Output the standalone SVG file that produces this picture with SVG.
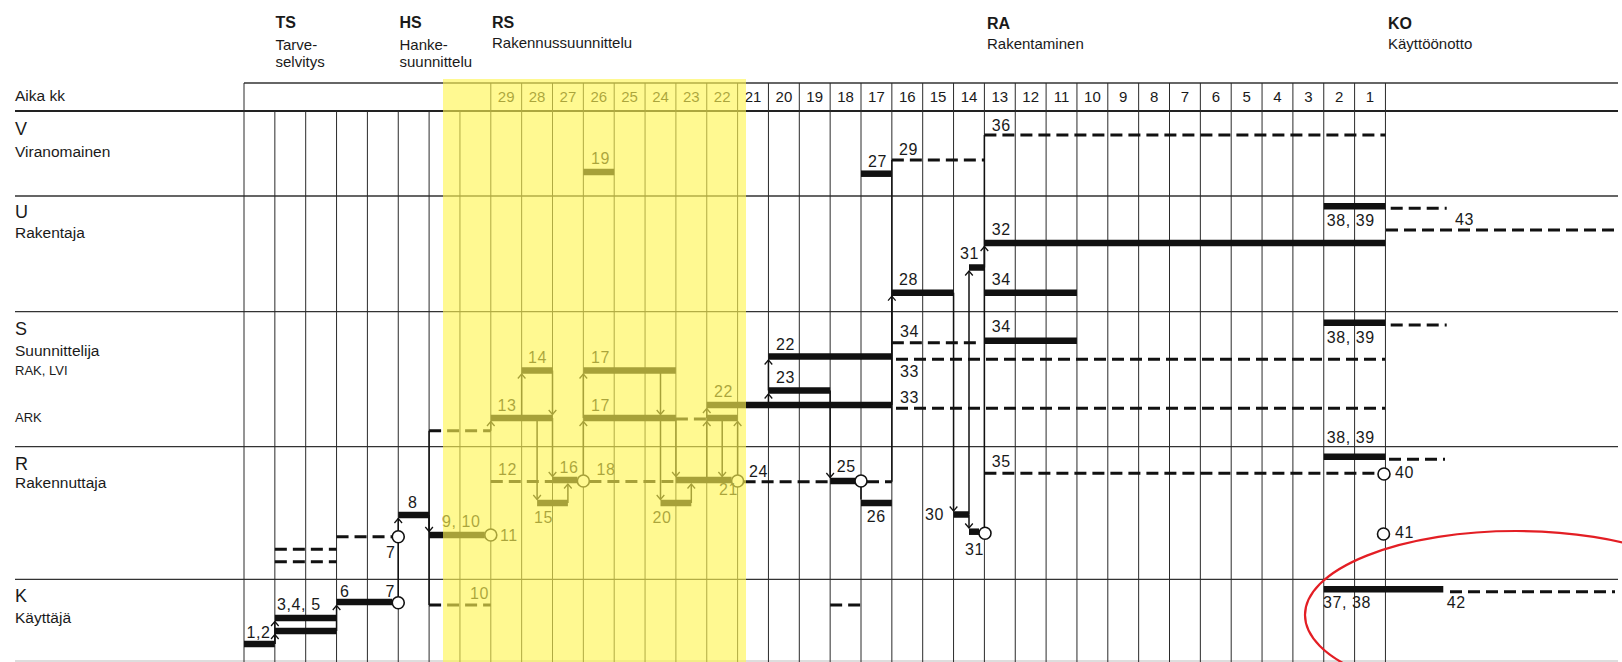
<svg xmlns="http://www.w3.org/2000/svg" width="1622" height="662" viewBox="0 0 1622 662">
<style>
text{font-family:"Liberation Sans",Arial,sans-serif;fill:#1a1a1a}
.ph{font-size:16px;font-weight:bold}
.ps{font-size:15px}
.rl{font-size:18px}
.rs{font-size:15.5px}
.sm{font-size:13px}
.hn{font-size:15px;text-anchor:middle}
.lb{font-size:16px;letter-spacing:0.6px}
.grid{stroke:#2a2a2a;stroke-width:1;fill:none}
.row{stroke:#333;stroke-width:1.3;fill:none}
.bar{stroke:#111;stroke-width:6.5;fill:none}
.dash{stroke:#111;stroke-width:3;stroke-dasharray:12 6;fill:none}
.cn{stroke:#111;stroke-width:1.5;fill:none}
.cm{stroke:#111;stroke-width:1.5;fill:none;marker-end:url(#ch)}
.ci{fill:#fff;stroke:#111;stroke-width:1.6}
</style>
<defs>
<marker id="ch" markerUnits="userSpaceOnUse" viewBox="-6 -5 7 10" refX="0" refY="0" markerWidth="7" markerHeight="10" orient="auto">
<path d="M-4.5,-3.8 L0,0 L-4.5,3.8" fill="none" stroke="#111" stroke-width="1.3"/>
</marker>
</defs>
<rect width="1622" height="662" fill="#fff"/>

<g id="grid">
<path class="row" d="M244 83H1618"/>
<path d="M15 111H1618" stroke="#222" stroke-width="2.2"/>
<path class="row" d="M15 196H1618M15 311.7H1618M15 446.7H1618M15 579.3H1618"/>
<path d="M15 661H1618" stroke="#bbb" stroke-width="1"/>
<path class="grid" d="M244 83V662M274.85 111V662M305.7 111V662M336.55 111V662M367.4 111V662M398.25 111V662M429.1 111V662M459.95 111V662M490.8 83V662M521.65 83V662M552.5 83V662M583.35 83V662M614.2 83V662M645.05 83V662M675.9 83V662M706.75 83V662M737.6 83V662M768.45 83V662M799.3 83V662M830.15 83V662M861 83V662M891.85 83V662M922.7 83V662M953.55 83V662M984.4 83V662M1015.25 83V662M1046.1 83V662M1076.95 83V662M1107.8 83V662M1138.65 83V662M1169.5 83V662M1200.35 83V662M1231.2 83V662M1262.05 83V662M1292.9 83V662M1323.75 83V662M1354.6 83V662M1385.45 83V662"/>
</g>

<g id="phases">
<text class="ph" x="275.5" y="28.3">TS</text>
<text class="ps" x="275.5" y="49.5">Tarve-</text>
<text class="ps" x="275.5" y="67">selvitys</text>
<text class="ph" x="399.5" y="28.3">HS</text>
<text class="ps" x="399.5" y="49.5">Hanke-</text>
<text class="ps" x="399.5" y="67">suunnittelu</text>
<text class="ph" x="492" y="27.5">RS</text>
<text class="ps" x="492" y="48.3">Rakennussuunnittelu</text>
<text class="ph" x="987" y="28.5">RA</text>
<text class="ps" x="987" y="48.5">Rakentaminen</text>
<text class="ph" x="1388" y="28.5">KO</text>
<text class="ps" x="1388" y="48.5">Käyttöönotto</text>
</g>

<g id="rows">
<text class="rs" x="15" y="101">Aika kk</text>
<text class="rl" x="15" y="135">V</text>
<text class="rs" x="15" y="157">Viranomainen</text>
<text class="rl" x="15" y="218">U</text>
<text class="rs" x="15" y="238">Rakentaja</text>
<text class="rl" x="15" y="335">S</text>
<text class="rs" x="15" y="356">Suunnittelija</text>
<text class="sm" x="15" y="375">RAK, LVI</text>
<text class="sm" x="15" y="421.7">ARK</text>
<text class="rl" x="15" y="470">R</text>
<text class="rs" x="15" y="488">Rakennuttaja</text>
<text class="rl" x="15" y="602">K</text>
<text class="rs" x="15" y="623">Käyttäjä</text>
</g>

<g id="months">
<text class="hn" x="506.2" y="102">29</text>
<text class="hn" x="537.1" y="102">28</text>
<text class="hn" x="567.9" y="102">27</text>
<text class="hn" x="598.8" y="102">26</text>
<text class="hn" x="629.6" y="102">25</text>
<text class="hn" x="660.5" y="102">24</text>
<text class="hn" x="691.3" y="102">23</text>
<text class="hn" x="722.2" y="102">22</text>
<text class="hn" x="753" y="102">21</text>
<text class="hn" x="783.9" y="102">20</text>
<text class="hn" x="814.7" y="102">19</text>
<text class="hn" x="845.6" y="102">18</text>
<text class="hn" x="876.4" y="102">17</text>
<text class="hn" x="907.3" y="102">16</text>
<text class="hn" x="938.1" y="102">15</text>
<text class="hn" x="969" y="102">14</text>
<text class="hn" x="999.8" y="102">13</text>
<text class="hn" x="1030.7" y="102">12</text>
<text class="hn" x="1061.5" y="102">11</text>
<text class="hn" x="1092.4" y="102">10</text>
<text class="hn" x="1123.2" y="102">9</text>
<text class="hn" x="1154.1" y="102">8</text>
<text class="hn" x="1184.9" y="102">7</text>
<text class="hn" x="1215.8" y="102">6</text>
<text class="hn" x="1246.6" y="102">5</text>
<text class="hn" x="1277.5" y="102">4</text>
<text class="hn" x="1308.3" y="102">3</text>
<text class="hn" x="1339.2" y="102">2</text>
<text class="hn" x="1370" y="102">1</text>
</g>

<g id="connectors">
<line class="cm" x1="274.85" y1="644" x2="274.85" y2="634.5"/>
<line class="cm" x1="274.85" y1="644" x2="274.85" y2="621.5"/>
<line class="cm" x1="336.55" y1="631" x2="336.55" y2="605.5"/>
<line class="cn" x1="398.25" y1="596.7" x2="398.25" y2="542.7"/>
<line class="cm" x1="398.25" y1="530.7" x2="398.25" y2="518.5"/>
<line class="cn" x1="429.1" y1="430.7" x2="429.1" y2="605"/>
<line class="cm" x1="429.1" y1="515" x2="429.1" y2="531.5"/>
<line class="cm" x1="490.8" y1="430.7" x2="490.8" y2="421.5"/>
<line class="cm" x1="521.65" y1="418" x2="521.65" y2="374"/>
<line class="cm" x1="552.5" y1="370.5" x2="552.5" y2="414.5"/>
<line class="cm" x1="552.5" y1="418" x2="552.5" y2="476.5"/>
<line class="cm" x1="537.1" y1="421" x2="537.1" y2="499.5"/>
<line class="cm" x1="567.9" y1="503" x2="567.9" y2="484"/>
<line class="cm" x1="583.35" y1="475" x2="583.35" y2="421.5"/>
<line class="cm" x1="583.35" y1="418" x2="583.35" y2="374"/>
<line class="cm" x1="660.5" y1="370.5" x2="660.5" y2="414.5"/>
<line class="cm" x1="660.5" y1="418" x2="660.5" y2="499.5"/>
<line class="cm" x1="675.9" y1="418" x2="675.9" y2="476.5"/>
<line class="cm" x1="691.3" y1="503" x2="691.3" y2="484"/>
<line class="cm" x1="706.75" y1="480" x2="706.75" y2="421.5"/>
<line class="cm" x1="706.75" y1="418" x2="706.75" y2="408.5"/>
<line class="cm" x1="722.2" y1="418" x2="722.2" y2="476.5"/>
<line class="cm" x1="737.6" y1="475" x2="737.6" y2="421.5"/>
<line class="cm" x1="768.45" y1="405" x2="768.45" y2="394"/>
<line class="cm" x1="768.45" y1="390.5" x2="768.45" y2="360"/>
<line class="cm" x1="830.15" y1="390.5" x2="830.15" y2="477.5"/>
<line class="cn" x1="861" y1="487" x2="861" y2="499.5"/>
<line class="cn" x1="891.85" y1="481.7" x2="891.85" y2="160"/>
<line class="cm" x1="891.85" y1="405" x2="891.85" y2="296.2"/>
<line class="cm" x1="953.55" y1="292.7" x2="953.55" y2="511"/>
<line class="cm" x1="969" y1="514.5" x2="969" y2="271"/>
<line class="cm" x1="969" y1="514.5" x2="969" y2="528"/>
<line class="cn" x1="984.4" y1="135" x2="984.4" y2="527"/>
<line class="cm" x1="984.4" y1="267.5" x2="984.4" y2="246.5"/>
</g>

<g id="n1-2"><line class="bar" x1="244" y1="644" x2="274.85" y2="644"/><text class="lb" x="246.5" y="638">1,2</text></g>
<g id="n3-5"><line class="bar" x1="274.85" y1="618" x2="336.55" y2="618"/><line class="bar" x1="274.85" y1="631" x2="336.55" y2="631"/><text class="lb" x="277" y="610">3,4, 5</text></g>
<g id="n3-5r"><line class="dash" x1="274.85" y1="549.3" x2="336.55" y2="549.3"/><line class="dash" x1="274.85" y1="561.7" x2="336.55" y2="561.7"/></g>
<g id="n6"><line class="bar" x1="336.55" y1="602" x2="392.3" y2="602"/><text class="lb" x="340" y="596.7">6</text></g>
<g id="n7k"><circle class="ci" cx="398.25" cy="602.7" r="6"/><text class="lb" x="385.5" y="596.7">7</text></g>
<g id="n7r"><line class="dash" x1="336.55" y1="536.7" x2="392.3" y2="536.7"/><circle class="ci" cx="398.25" cy="536.7" r="6"/><text class="lb" x="386" y="558">7</text></g>
<g id="n8"><line class="bar" x1="398.25" y1="515" x2="429.1" y2="515"/><text class="lb" x="408" y="508">8</text></g>
<g id="n9-10"><line class="bar" x1="429.1" y1="535" x2="484.8" y2="535"/><text class="lb" x="442" y="527">9, 10</text></g>
<g id="n11"><circle class="ci" cx="490.8" cy="535" r="6"/><text class="lb" x="500" y="541">11</text></g>
<g id="n10k"><line class="dash" x1="429.1" y1="605" x2="490.8" y2="605"/><text class="lb" x="470" y="599.3">10</text></g>
<g id="nark"><line class="dash" x1="429.1" y1="430.7" x2="490.8" y2="430.7"/></g>
<g id="n12"><line class="dash" x1="490.8" y1="481.5" x2="552.5" y2="481.5"/><text class="lb" x="498" y="475">12</text></g>
<g id="n13"><line class="bar" x1="490.8" y1="418" x2="552.5" y2="418"/><text class="lb" x="497.5" y="410.7">13</text></g>
<g id="n14"><line class="bar" x1="521.65" y1="370.5" x2="552.5" y2="370.5"/><text class="lb" x="528" y="363.3">14</text></g>
<g id="n15"><line class="bar" x1="537.1" y1="503" x2="567.9" y2="503"/><text class="lb" x="534" y="522.7">15</text></g>
<g id="n16"><line class="bar" x1="552.5" y1="480" x2="577.4" y2="480"/><circle class="ci" cx="583.35" cy="481" r="6"/><text class="lb" x="559.6" y="473.3">16</text></g>
<g id="n17a"><line class="bar" x1="583.35" y1="370.5" x2="675.9" y2="370.5"/><text class="lb" x="591" y="363.3">17</text></g>
<g id="n17b"><line class="bar" x1="583.35" y1="418" x2="675.9" y2="418"/><text class="lb" x="591" y="410.7">17</text><line class="dash" x1="675.9" y1="419" x2="706.75" y2="419"/></g>
<g id="n18"><line class="dash" x1="589.4" y1="481.5" x2="675.9" y2="481.5"/><text class="lb" x="596.5" y="475">18</text></g>
<g id="n19"><line class="bar" x1="583.35" y1="172" x2="614.2" y2="172"/><text class="lb" x="591" y="163.5">19</text></g>
<g id="n20"><line class="bar" x1="660.5" y1="503" x2="691.3" y2="503"/><text class="lb" x="652.6" y="522.7">20</text></g>
<g id="n21"><line class="bar" x1="675.9" y1="480" x2="731.6" y2="480"/><circle class="ci" cx="737.6" cy="481" r="6"/><text class="lb" x="719" y="495">21</text></g>
<g id="n22y"><line class="bar" x1="706.75" y1="405" x2="891.85" y2="405"/><line class="bar" x1="706.75" y1="418" x2="737.6" y2="418"/><text class="lb" x="714" y="396.7">22</text></g>
<g id="n22"><line class="bar" x1="768.45" y1="356.5" x2="891.85" y2="356.5"/><text class="lb" x="776" y="350">22</text></g>
<g id="n23"><line class="bar" x1="768.45" y1="390.5" x2="830.15" y2="390.5"/><text class="lb" x="776" y="383.3">23</text></g>
<g id="n24"><line class="dash" x1="743.6" y1="481.7" x2="830.15" y2="481.7"/><text class="lb" x="749" y="476.7">24</text></g>
<g id="n25"><line class="bar" x1="830.15" y1="481" x2="855" y2="481"/><circle class="ci" cx="861" cy="481" r="6"/><text class="lb" x="836.7" y="471.7">25</text><line class="dash" x1="867" y1="481.7" x2="891.85" y2="481.7"/></g>
<g id="n26"><line class="bar" x1="861" y1="503" x2="891.85" y2="503"/><text class="lb" x="866.7" y="521.7">26</text><line class="dash" x1="830.15" y1="605" x2="861" y2="605"/></g>
<g id="n27"><line class="bar" x1="861" y1="173.7" x2="891.85" y2="173.7"/><text class="lb" x="868" y="166.7">27</text></g>
<g id="n28"><line class="bar" x1="891.85" y1="292.7" x2="953.55" y2="292.7"/><text class="lb" x="899" y="285">28</text></g>
<g id="n29"><line class="dash" x1="891.85" y1="160" x2="984.4" y2="160"/><text class="lb" x="899" y="155">29</text></g>
<g id="n30"><line class="bar" x1="953.55" y1="514.5" x2="969" y2="514.5"/><text class="lb" x="925" y="520">30</text></g>
<g id="n31u"><line class="bar" x1="969" y1="267.5" x2="984.4" y2="267.5"/><text class="lb" x="960" y="259.3">31</text></g>
<g id="n31r"><line class="bar" x1="969" y1="531.7" x2="979" y2="531.7"/><circle class="ci" cx="985" cy="533.3" r="6"/><text class="lb" x="965" y="555">31</text></g>
<g id="n32"><line class="bar" x1="984.4" y1="243" x2="1385.45" y2="243"/><text class="lb" x="991.7" y="235">32</text></g>
<g id="n33a"><line class="dash" x1="896" y1="359.3" x2="1385" y2="359.3"/><text class="lb" x="900" y="376.7">33</text></g>
<g id="n33b"><line class="dash" x1="896" y1="408.3" x2="1385" y2="408.3"/><text class="lb" x="900" y="403.3">33</text></g>
<g id="n34u"><line class="bar" x1="984.4" y1="292.7" x2="1076.95" y2="292.7"/><text class="lb" x="991.7" y="285">34</text></g>
<g id="n34s"><line class="dash" x1="891.85" y1="342.7" x2="980" y2="342.7"/><text class="lb" x="900" y="337.3">34</text><line class="bar" x1="984.4" y1="340.7" x2="1076.95" y2="340.7"/><text class="lb" x="991.7" y="332.3">34</text></g>
<g id="n35"><line class="dash" x1="984.4" y1="473.3" x2="1377.5" y2="473.3"/><text class="lb" x="991.7" y="466.7">35</text></g>
<g id="n36"><line class="dash" x1="984.4" y1="135" x2="1385.45" y2="135"/><text class="lb" x="991.7" y="131">36</text></g>
<g id="n38u"><line class="bar" x1="1323.75" y1="206.3" x2="1385.45" y2="206.3"/><text class="lb" x="1326.7" y="226">38, 39</text><line class="dash" x1="1390.7" y1="208.3" x2="1446.7" y2="208.3"/></g>
<g id="n43"><line class="dash" x1="1386" y1="230" x2="1618" y2="230"/><text class="lb" x="1455" y="225">43</text></g>
<g id="n38s"><line class="bar" x1="1323.75" y1="322.7" x2="1385.45" y2="322.7"/><text class="lb" x="1326.7" y="342.7">38, 39</text><line class="dash" x1="1390.7" y1="325" x2="1446.7" y2="325"/></g>
<g id="n38r"><line class="bar" x1="1323.75" y1="456.7" x2="1385.45" y2="456.7"/><text class="lb" x="1326.7" y="442.7">38, 39</text><line class="dash" x1="1389" y1="459.3" x2="1445" y2="459.3"/></g>
<g id="n40"><circle class="ci" cx="1384" cy="474" r="6"/><text class="lb" x="1395" y="478.3">40</text></g>
<g id="n41"><circle class="ci" cx="1383.5" cy="534" r="6"/><text class="lb" x="1395" y="538.3">41</text></g>
<g id="n37"><line class="bar" x1="1323.75" y1="589.3" x2="1443.3" y2="589.3"/><text class="lb" x="1323" y="608.3">37, 38</text></g>
<g id="n42"><line class="dash" x1="1450" y1="591.7" x2="1615" y2="591.7"/><text class="lb" x="1446.7" y="608.3">42</text></g>

<rect id="highlight" x="443" y="79" width="303" height="583" fill="#fff550" opacity="0.63"/>
<ellipse id="mark" cx="1516" cy="615" rx="211" ry="84" fill="none" stroke="#e31e24" stroke-width="2.2"/>
</svg>
